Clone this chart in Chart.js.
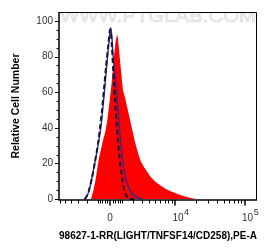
<!DOCTYPE html>
<html><head><meta charset="utf-8">
<script src="https://cdn.jsdelivr.net/npm/chart.js@4/dist/chart.umd.min.js"></script>
<style>html,body{margin:0;padding:0;background:#fff;}#wrap{width:264px;height:249px;}</style>
</head><body><div id="wrap"><canvas id="c" width="264" height="249"></canvas></div>
<script>
// x values are in display (arcsinh-transformed) units: u = asinh(intensity / COFACTOR)
const COFACTOR = 2387;
const X_MIN = -1.678, X_MAX = 4.836;
const Y_MIN = -0.5, Y_MAX = 105;

const SAMPLE_X = [-0.625,-0.559,-0.493,-0.428,-0.362,-0.296,-0.230,-0.164,-0.099,-0.033,0.033,0.082,0.132,0.181,0.230,0.263,0.296,0.329,0.362,0.395,0.428,0.493,0.559,0.625,0.691,0.757,0.822,0.888,0.954,1.020,1.118,1.217,1.316,1.414,1.546,1.678,1.809,1.974,2.204,2.401,2.632,2.829];
const SAMPLE_Y = [0,4,9,16,23,28,33,37,43,52,62,70,80,88,92.5,90,84,78,72,66,61,57,52,47,42,37,32,28,24,21,18,15.5,13,11,9,7.5,6,4.5,3,1.8,0.8,0];

const CONTROL_X = [-0.855,-0.789,-0.724,-0.658,-0.592,-0.493,-0.395,-0.296,-0.230,-0.164,-0.099,-0.033,0.023,0.066,0.099,0.148,0.197,0.247,0.296,0.345,0.395,0.444,0.493,0.559,0.658,0.757,0.888,1.053];
const CONTROL_Y = [0,1,3,7,12,21,30,41,52,64,77,88,96,90,81,72,64,54,43,33,25,18,13,9,5,2.3,1,0];

const ISOTYPE_X = [-0.822,-0.757,-0.691,-0.592,-0.493,-0.395,-0.329,-0.263,-0.197,-0.132,-0.066,0,0.033,0.066,0.099,0.132,0.164,0.214,0.263,0.296,0.345,0.395,0.444,0.493,0.559,0.658,0.789];
const ISOTYPE_Y = [0,2,5,12,21,31,40,50,62,74,85,95,93,85,74,64,55,43,32,26,19,12,7,3.5,1.5,0.3,0];

const X_MAJOR = [0, 1e4, 1e5];
const X_MAJOR_BASE = ['0', '10', '10'];
const X_MAJOR_EXP = ['', '4', '5'];
const X_MINOR = [-6000,-5000,-4000,-3000,-2000,-1000,-800,-600,-400,-200,200,400,600,800,1000,2000,3000,4000,5000,6000,7000,8000,9000,20000,30000,40000,50000,60000,70000,80000,90000];
const Y_TICKS = [0,5,10,15,20,25,30,35,40,45,50,55,60,65,70,75,80,85,90,95,100];
const Y_LABEL_STEP = 20;

const X_TITLE = '98627-1-RR(LIGHT/TNFSF14/CD258),PE-A';
const Y_TITLE = 'Relative Cell Number';
const WATERMARK = 'WWW.PTGLAB.COM';

const T = v => Math.asinh(v / COFACTOR);
const pts = (xs, ys) => xs.map((x, i) => ({x, y: ys[i]}));

const axesPlugin = {
  id: 'flowAxes',
  beforeDatasetsDraw(chart) {
    const {ctx, chartArea: a} = chart;
    ctx.save();
    ctx.beginPath(); ctx.rect(a.left, a.top, a.right - a.left, a.bottom - a.top); ctx.clip();
    ctx.font = '19px Arial, "Liberation Sans", sans-serif';
    const w = ctx.measureText(WATERMARK).width;
    const sx = (a.right - a.left - 2) / w;
    ctx.translate(a.left + 1, 22);
    ctx.scale(sx, 1);
    ctx.fillStyle = '#f4f4f4';
    ctx.strokeStyle = '#d6d6d6';
    ctx.lineWidth = 0.6;
    ctx.fillText(WATERMARK, 0, 0);
    ctx.strokeText(WATERMARK, 0, 0);
    ctx.restore();
  },
  afterDraw(chart) {
    const {ctx, chartArea: a, scales: {x, y}} = chart;
    ctx.save();
    ctx.strokeStyle = '#000';
    ctx.lineWidth = 1;
    ctx.beginPath();
    ctx.moveTo(a.left, a.top + 0.5); ctx.lineTo(a.right - 0.5, a.top + 0.5); ctx.lineTo(a.right - 0.5, a.bottom);
    ctx.stroke();
    ctx.lineWidth = 1.5;
    ctx.beginPath();
    ctx.moveTo(a.left, a.top); ctx.lineTo(a.left, a.bottom); ctx.lineTo(a.right, a.bottom);
    ctx.stroke();
    ctx.lineWidth = 1;
    Y_TICKS.forEach(v => {
      const py = Math.round(y.getPixelForValue(v)) + 0.5;
      const len = (v % Y_LABEL_STEP === 0) ? 4 : 2.5;
      ctx.beginPath(); ctx.moveTo(a.left - len, py); ctx.lineTo(a.left, py); ctx.stroke();
    });
    X_MINOR.forEach(v => {
      const px = Math.round(x.getPixelForValue(T(v))) + 0.5;
      ctx.beginPath(); ctx.moveTo(px, a.bottom); ctx.lineTo(px, a.bottom + 3.5); ctx.stroke();
    });
    ctx.lineWidth = 1.5;
    X_MAJOR.forEach(v => {
      const px = Math.round(x.getPixelForValue(T(v)));
      ctx.beginPath(); ctx.moveTo(px, a.bottom); ctx.lineTo(px, a.bottom + 5.5); ctx.stroke();
    });
    ctx.fillStyle = '#333';
    ctx.textBaseline = 'alphabetic';
    X_MAJOR.forEach((v, i) => {
      const px = x.getPixelForValue(T(v));
      ctx.font = '10px Arial, "Liberation Sans", sans-serif';
      ctx.textAlign = 'center';
      const base = X_MAJOR_BASE[i];
      const bw = ctx.measureText(base).width;
      const cx = X_MAJOR_EXP[i] ? px + 3 : px;
      ctx.fillText(base, cx, 220.5);
      if (X_MAJOR_EXP[i]) {
        ctx.textAlign = 'left';
        ctx.font = '9px Arial, "Liberation Sans", sans-serif';
        ctx.fillText(X_MAJOR_EXP[i], cx + bw / 2 + 0.5, 214.5);
      }
    });
    ctx.restore();
  }
};

new Chart(document.getElementById('c'), {
  type: 'line',
  data: {
    datasets: [
      { label: 'Sample', data: pts(SAMPLE_X, SAMPLE_Y), borderWidth: 0, borderColor: '#ff0000',
        backgroundColor: '#ff0000', fill: 'origin', pointRadius: 0, tension: 0, order: 3 },
      { label: 'Control', data: pts(CONTROL_X, CONTROL_Y), borderWidth: 1.4, borderColor: '#2a2a90',
        fill: false, pointRadius: 0, tension: 0.2, order: 2 },
      { label: 'Isotype', data: pts(ISOTYPE_X, ISOTYPE_Y), borderWidth: 2, borderColor: '#15152e',
        borderDash: [5, 3], fill: false, pointRadius: 0, tension: 0.2, order: 1 }
    ]
  },
  options: {
    responsive: false,
    devicePixelRatio: 1,
    animation: false,
    layout: { padding: { top: 5, right: 7, left: 0, bottom: 0 } },
    plugins: { legend: { display: false }, tooltip: { enabled: false } },
    scales: {
      x: {
        type: 'linear', min: X_MIN, max: X_MAX,
        grid: { display: false, drawTicks: false }, border: { display: false },
        ticks: { display: false },
        afterFit: s => { s.height = 49; },
        title: { display: true, text: X_TITLE, color: '#000',
          font: { family: 'Arial, "Liberation Sans", sans-serif', size: 11.5, weight: 'bold' },
          padding: { top: 0, bottom: 6 } }
      },
      y: {
        type: 'linear', min: Y_MIN, max: Y_MAX,
        grid: { display: false, drawTicks: false }, border: { display: false },
        afterBuildTicks: s => { s.ticks = Y_TICKS.map(v => ({ value: v })); },
        ticks: { autoSkip: false, padding: 6, color: '#333',
          font: { family: 'Arial, "Liberation Sans", sans-serif', size: 10 },
          callback: v => (v % Y_LABEL_STEP === 0 ? String(v) : '') },
        afterFit: s => { s.width = 59; },
        title: { display: true, text: Y_TITLE, color: '#000',
          font: { family: 'Arial, "Liberation Sans", sans-serif', size: 10.5, weight: 'bold' },
          padding: { top: 10, bottom: 0 } }
      }
    }
  },
  plugins: [axesPlugin]
});
</script>
</body></html>
